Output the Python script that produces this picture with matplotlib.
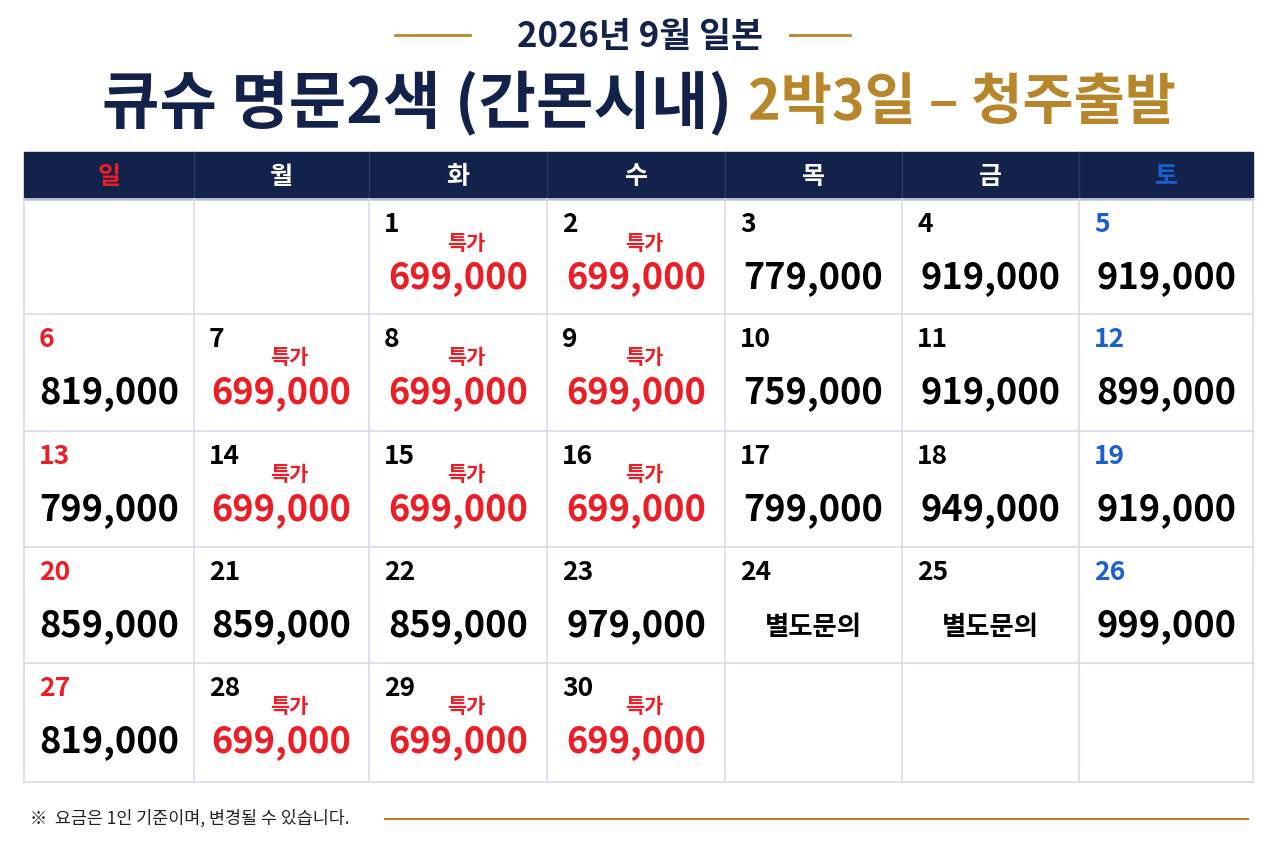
import matplotlib
matplotlib.use("Agg")
import matplotlib.pyplot as plt
from matplotlib.patches import Rectangle

plt.rcParams['font.family'] = ['Noto Sans CJK KR', 'DejaVu Sans']

title_top = "2026년 9월 일본"
title_a = "큐슈 명문2색 (간몬시내)"
title_b = "2박3일 – 청주출발"
weekdays = ["일", "월", "화", "수", "목", "금", "토"]
first_col = 2
days = list(range(1, 31))
prices = ["699,000", "699,000", "779,000", "919,000", "919,000",
          "819,000", "699,000", "699,000", "699,000", "759,000", "919,000", "899,000",
          "799,000", "699,000", "699,000", "699,000", "799,000", "949,000", "919,000",
          "859,000", "859,000", "859,000", "979,000", "별도문의", "별도문의", "999,000",
          "819,000", "699,000", "699,000", "699,000"]
special = [1, 1, 0, 0, 0,
           0, 1, 1, 1, 0, 0, 0,
           0, 1, 1, 1, 0, 0, 0,
           0, 0, 0, 0, 0, 0, 0,
           0, 1, 1, 1]
footnote = "※  요금은 1인 기준이며, 변경될 수 있습니다."

NAVY = "#13224a"
GOLD = "#b8862a"
RED = "#ee1c25"
BLUE = "#1a5fd0"
GRID = "#d5dbe8"

fig = plt.figure(figsize=(12.8, 8.54), dpi=100)
ax = fig.add_axes([0, 0, 1, 1])
ax.set_xlim(0, 1280); ax.set_ylim(854, 0); ax.axis("off")

# titles
ax.text(640, 37, title_top, ha="center", va="center", fontsize=25, fontweight="bold", color=NAVY)
ax.plot([395, 470], [36, 36], color=GOLD, lw=2)
ax.plot([790, 850], [36, 36], color=GOLD, lw=2)
ax.text(732, 103, title_a, ha="right", va="center", fontsize=45, fontweight="heavy", color=NAVY)
ax.text(748, 103, title_b, ha="left", va="center", fontsize=40, fontweight="heavy", color=GOLD)

xs = [24, 194, 369, 547, 725, 902, 1079, 1253]
ys = [200, 315, 432, 548, 664, 783]

# header
ax.add_patch(Rectangle((xs[0], 153), xs[-1] - xs[0], 47, color=NAVY, zorder=1))
for i, w in enumerate(weekdays):
    c = RED if i == 0 else (BLUE if i == 6 else "white")
    ax.text((xs[i] + xs[i + 1]) / 2, 177, w, ha="center", va="center", fontsize=18,
            fontweight="bold", color=c, zorder=3)
for x in xs[1:-1]:
    ax.plot([x, x], [153, 200], color="#2c3b63", lw=1, zorder=2)

# grid
for y in ys:
    ax.plot([xs[0], xs[-1]], [y, y], color=GRID, lw=1.2)
for x in xs:
    ax.plot([x, x], [ys[0], ys[-1]], color=GRID, lw=1.2)

for k, d in enumerate(days):
    pos = first_col + k
    r, c = divmod(pos, 7)
    x0, x1 = xs[c], xs[c + 1]
    top = ys[r]
    cx = (x0 + x1) / 2
    dc = RED if c == 0 else (BLUE if c == 6 else "black")
    ax.text(x0 + 15, top + 25, str(d), ha="left", va="center", fontsize=19,
            fontweight="bold", color=dc)
    p = prices[k]
    if special[k]:
        ax.text(cx + 8, top + 43, "특가", ha="center", va="center", fontsize=15,
                fontweight="bold", color=RED)
    pc = RED if special[k] else "black"
    if p.endswith("0"):
        ax.text(cx, top + 78, p, ha="center", va="center", fontsize=26, fontweight="bold", color=pc)
    else:
        ax.text(cx, top + 80, p, ha="center", va="center", fontsize=19, fontweight="bold", color="black")

ax.text(30, 818, footnote, ha="left", va="center", fontsize=12.5, color="#222222")
ax.plot([385, 1248], [820, 820], color=GOLD, lw=1.5)

fig.savefig("out.png", dpi=100, facecolor="white")
